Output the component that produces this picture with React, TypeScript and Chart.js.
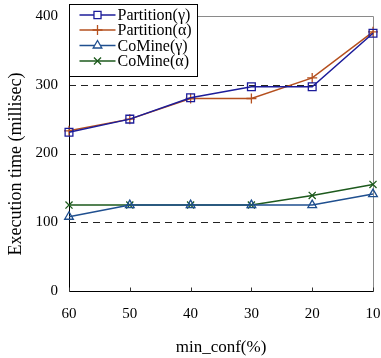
import React, { useEffect, useRef } from "react";
import { Chart, registerables } from "chart.js";

Chart.register(...registerables);

const categories = ["60", "50", "40", "30", "20", "10"];
const partitionGamma = [231, 250, 281, 297, 297, 375];
const partitionAlpha = [233, 250, 280, 280, 310, 377];
const comineGamma = [108, 125, 125, 125, 125, 141];
const comineAlpha = [125, 125, 125, 125, 139, 155];
const yTicks = [0, 100, 200, 300, 400];
const dashedValues = [100, 200, 300];

const seriesNames = ["Partition(γ)", "Partition(α)", "CoMine(γ)", "CoMine(α)"];
const seriesColors = ["#1c1c9a", "#b5501f", "#1f4f8f", "#1d5a1d"];
const seriesPointStyles = ["rect", "cross", "triangle", "crossRot"];
const yTitle = "Execution time (millisec)";
const xTitle = "min_conf(%)";

const FONT = "'Liberation Serif', 'Times New Roman', serif";

function drawMarker(ctx: CanvasRenderingContext2D, style: string, x: number, y: number, r: number) {
  ctx.beginPath();
  if (style === "rect") {
    const s = Math.SQRT1_2 * r;
    ctx.rect(x - s, y - s, 2 * s, 2 * s);
    ctx.fillStyle = "#fff";
    ctx.fill();
  } else if (style === "cross") {
    ctx.moveTo(x, y - r);
    ctx.lineTo(x, y + r);
    ctx.moveTo(x - r, y);
    ctx.lineTo(x + r, y);
  } else if (style === "triangle") {
    const h = r * 1.5;
    ctx.moveTo(x, y - r);
    ctx.lineTo(x - h / Math.sqrt(3), y + r * 0.5);
    ctx.lineTo(x + h / Math.sqrt(3), y + r * 0.5);
    ctx.closePath();
    ctx.fillStyle = "#fff";
    ctx.fill();
  } else {
    const d = r * Math.SQRT1_2;
    ctx.moveTo(x - d, y - d);
    ctx.lineTo(x + d, y + d);
    ctx.moveTo(x - d, y + d);
    ctx.lineTo(x + d, y - d);
  }
  ctx.stroke();
}

const framePlugin = {
  id: "frame",
  beforeDatasetsDraw(chart: any) {
    const { ctx, chartArea } = chart;
    const y = chart.scales.y;
    const x = chart.scales.x;
    ctx.save();
    ctx.lineWidth = 1;
    ctx.strokeStyle = "#222";
    ctx.setLineDash([7, 5]);
    dashedValues.forEach((v) => {
      const py = Math.round(y.getPixelForValue(v)) + 0.5;
      ctx.beginPath();
      ctx.moveTo(chartArea.left, py);
      ctx.lineTo(chartArea.right, py);
      ctx.stroke();
    });
    ctx.setLineDash([]);
    ctx.strokeStyle = "#8a8a8a";
    const top = Math.round(chartArea.top) + 0.5;
    const right = Math.round(chartArea.right) + 0.5;
    const bottom = Math.round(chartArea.bottom) + 0.5;
    const left = Math.round(chartArea.left) + 0.5;
    ctx.beginPath();
    ctx.moveTo(left, top);
    ctx.lineTo(right, top);
    ctx.lineTo(right, bottom);
    ctx.stroke();
    ctx.strokeStyle = "#000";
    ctx.beginPath();
    ctx.moveTo(left, top);
    ctx.lineTo(left, bottom);
    ctx.lineTo(right, bottom);
    ctx.stroke();
    ctx.strokeStyle = "#333";
    categories.forEach((_, i) => {
      const px = Math.round(x.getPixelForValue(i)) + 0.5;
      ctx.beginPath();
      ctx.moveTo(px, bottom);
      ctx.lineTo(px, bottom - 4);
      ctx.stroke();
    });
    // y axis title
    ctx.save();
    ctx.translate(16, 164);
    ctx.rotate(-Math.PI / 2);
    ctx.font = `18px ${FONT}`;
    ctx.fillStyle = "#000";
    ctx.textAlign = "center";
    ctx.textBaseline = "middle";
    ctx.fillText(yTitle, 0, 0);
    ctx.restore();
    ctx.restore();
  },
  afterDraw(chart: any) {
    const { ctx, chartArea } = chart;
    ctx.save();
    const bx = Math.round(chartArea.left) + 0.5;
    const by = 4.5;
    const bw = 128;
    const bh = 72;
    ctx.fillStyle = "#fff";
    ctx.fillRect(bx, by, bw, bh);
    ctx.strokeStyle = "#000";
    ctx.lineWidth = 1;
    ctx.strokeRect(bx, by, bw, bh);
    ctx.font = `16px ${FONT}`;
    ctx.textBaseline = "middle";
    ctx.textAlign = "left";
    const rows = [15, 30, 45.5, 61];
    seriesNames.forEach((name, i) => {
      const ry = rows[i];
      ctx.strokeStyle = seriesColors[i];
      ctx.lineWidth = 1.5;
      ctx.beginPath();
      ctx.moveTo(bx + 10, ry);
      ctx.lineTo(bx + 46, ry);
      ctx.stroke();
      ctx.lineWidth = 1.3;
      drawMarker(ctx, seriesPointStyles[i], bx + 28, ry, 5);
      ctx.fillStyle = "#000";
      ctx.fillText(name, bx + 48, ry + 1);
    });
    ctx.restore();
  },
};

export default function App() {
  const ref = useRef<HTMLCanvasElement | null>(null);
  useEffect(() => {
    document.body.style.margin = "0";
    const canvas = ref.current;
    if (!canvas) return;
    const datasets = [partitionGamma, partitionAlpha, comineGamma, comineAlpha].map((data, i) => ({
      label: seriesNames[i],
      data,
      borderColor: seriesColors[i],
      backgroundColor: "#ffffff",
      borderWidth: 1.5,
      pointStyle: seriesPointStyles[i] as any,
      pointRadius: i === 0 ? 5.5 : 5,
      pointBorderColor: seriesColors[i],
      pointBackgroundColor: "rgba(255,255,255,0)",
      pointBorderWidth: 1.3,
      tension: 0,
    }));
    const chart = new Chart(canvas, {
      type: "line",
      data: { labels: categories, datasets },
      options: {
        animation: false,
        responsive: false,
        devicePixelRatio: 1,
        layout: { padding: { top: 16, right: 8, left: 0, bottom: 0 } },
        plugins: { legend: { display: false }, tooltip: { enabled: false } },
        scales: {
          x: {
            offset: false,
            grid: { display: false, drawTicks: false },
            border: { display: false },
            ticks: { color: "#000", font: { family: FONT, size: 15 }, padding: 14 },
            title: {
              display: true,
              text: xTitle,
              color: "#000",
              font: { family: FONT, size: 17 },
              padding: { top: 0, bottom: 0 },
            },
            afterFit: (s: any) => {
              s.height = 67;
              s.paddingLeft = 0;
              s.paddingRight = 0;
            },
          },
          y: {
            min: 0,
            max: 400,
            afterBuildTicks: (s: any) => {
              s.ticks = yTicks.map((v) => ({ value: v }));
            },
            grid: { display: false, drawTicks: false },
            border: { display: false },
            ticks: { color: "#000", font: { family: FONT, size: 15 }, padding: 11 },
            afterFit: (s: any) => {
              s.width = 69;
              s.paddingTop = 0;
              s.paddingBottom = 0;
            },
          },
        },
      },
      plugins: [framePlugin],
    });
    return () => chart.destroy();
  }, []);
  return (
    <div style={{ width: 381, height: 358 }}>
      <canvas ref={ref} width={381} height={358} style={{ display: "block" }} />
    </div>
  );
}
